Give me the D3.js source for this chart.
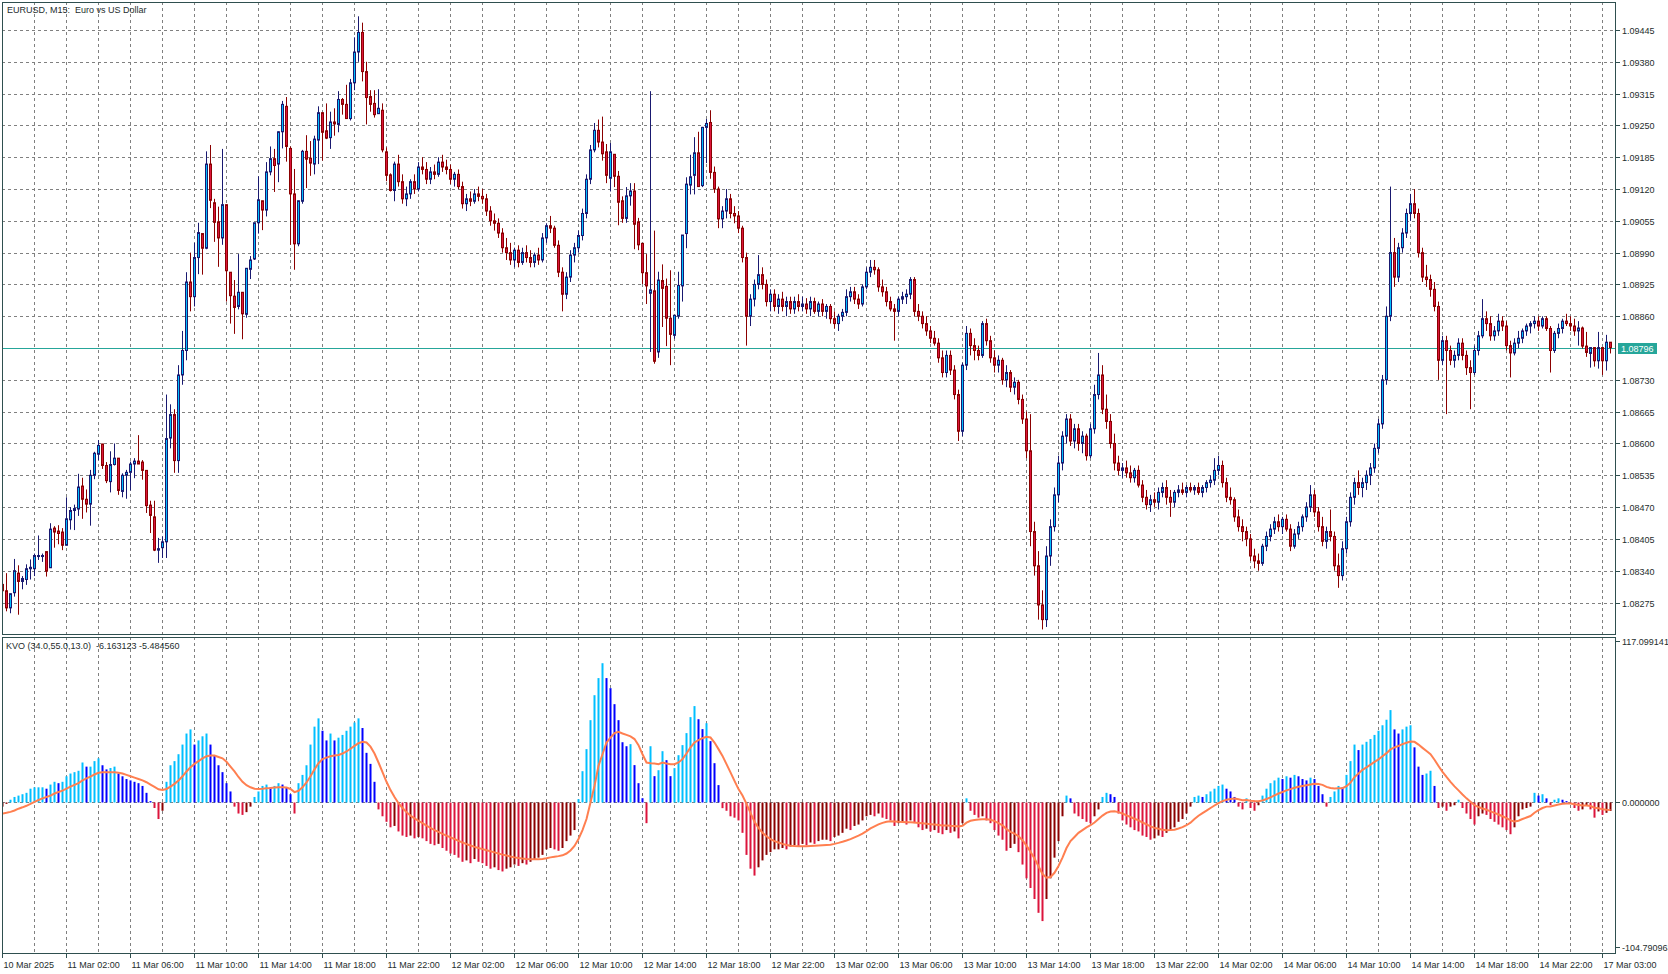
<!DOCTYPE html>
<html><head><meta charset="utf-8">
<script src="https://cdn.jsdelivr.net/npm/d3@7"></script>
<style>
html,body{margin:0;padding:0;background:#fff;overflow:hidden;}
svg{display:block;font-family:"Liberation Sans",Arial,sans-serif;}
</style></head><body>
<svg id="c" width="1668" height="974"></svg>
<script>
const symbolTitle = "EURUSD, M15:  Euro vs US Dollar";
const kvoTitle = "KVO (34.0,55.0,13.0)  -6.163123 -5.484560";
const timeLabels = ["10 Mar 2025","11 Mar 02:00","11 Mar 06:00","11 Mar 10:00","11 Mar 14:00","11 Mar 18:00","11 Mar 22:00","12 Mar 02:00","12 Mar 06:00","12 Mar 10:00","12 Mar 14:00","12 Mar 18:00","12 Mar 22:00","13 Mar 02:00","13 Mar 06:00","13 Mar 10:00","13 Mar 14:00","13 Mar 18:00","13 Mar 22:00","14 Mar 02:00","14 Mar 06:00","14 Mar 10:00","14 Mar 14:00","14 Mar 18:00","14 Mar 22:00","17 Mar 03:00"];
const timeLabelBars = [0,16,32,48,64,80,96,112,128,144,160,176,192,208,224,240,256,272,288,304,320,336,352,368,384,400];
const priceTicks = [1.09445,1.09380,1.09315,1.09250,1.09185,1.09120,1.09055,1.08990,1.08925,1.08860,1.08795,1.08730,1.08665,1.08600,1.08535,1.08470,1.08405,1.08340,1.08275];
const kvoTicks = [117.099141, 0, -104.790963];
const currentPrice = 1.08796;

// M15 bars, prices in points (1e-5)
const openP = [
108312,108299,108264,108295,108335,108318,108322,108344,108344,108369,
108369,108379,108346,108427,108421,108419,108392,108444,108463,108466,
108513,108486,108476,108535,108578,108599,108555,108522,108557,108570,
108502,108535,108541,108558,108564,108562,108545,108474,108450,108382,
108387,108399,108611,108659,108565,108740,108790,108930,108900,108980,
109029,108999,109171,109092,109053,109020,109088,108950,108901,108880,
108909,108864,108956,108977,109051,109096,109077,109155,109182,109171,
109237,109289,109203,109110,109008,109095,109197,109183,109171,109220,
109276,109239,109225,109257,109252,109303,109293,109264,109337,109400,
109440,109360,109309,109295,109274,109281,109196,109149,109117,109171,
109135,109100,109110,109135,109120,109165,109160,109140,109155,109150,
109175,109165,109160,109140,109150,109125,109090,109100,109095,109110,
109105,109100,109075,109055,109050,109030,109000,108990,108975,108995,
108970,108990,108980,108970,108985,108975,109020,109045,109040,109005,
108950,108905,108940,108985,109000,109025,109070,109140,109200,109240,
109216,109196,109142,109191,109146,109096,109060,109106,109116,109053,
109009,108949,108907,108912,108787,108933,108921,108856,108821,108860,
108922,109029,109128,109148,109194,109127,109246,109256,109154,109120,
109059,109075,109100,109070,109065,109040,108980,108860,108895,108925,
108945,108925,108890,108905,108880,108895,108880,108890,108875,108890,
108880,108885,108875,108890,108870,108885,108870,108880,108855,108845,
108860,108868,108900,108910,108895,108885,108920,108950,108960,108955,
108920,108910,108890,108875,108870,108895,108900,108905,108935,108870,
108860,108845,108830,108815,108805,108775,108745,108780,108750,108700,
108625,108760,108825,108800,108790,108780,108845,108810,108775,108760,
108770,108730,108745,108715,108725,108690,108650,108585,108420,108350,
108270,108240,108370,108430,108495,108560,108615,108650,108605,108630,
108600,108615,108575,108630,108700,108740,108670,108645,108600,108560,
108545,108550,108540,108530,108545,108515,108490,108475,108485,108480,
108500,108510,108490,108480,108500,108505,108500,108510,108505,108510,
108500,108510,108520,108525,108545,108555,108520,108490,108485,108450,
108430,108420,108405,108370,108360,108355,108390,108410,108425,108440,
108430,108445,108425,108390,108415,108430,108450,108470,108495,108460,
108430,108400,108420,108410,108350,108330,108385,108440,108490,108520,
108510,108520,108535,108550,108590,108640,108730,108860,108990,108940,
109000,109030,109070,109090,109070,108990,108940,108935,108915,108880,
108770,108810,108790,108770,108780,108805,108780,108755,108745,108790,
108820,108855,108845,108820,108830,108850,108840,108800,108785,108805,
108815,108830,108840,108845,108850,108840,108855,108835,108790,108825,
108835,108850,108845,108840,108830,108836,108799,108784,108796,108769,
108796,108769,108807];
const highP = [
108318,108335,108293,108364,108351,108329,108353,108363,108375,108412,
108375,108379,108437,108431,108433,108427,108490,108470,108475,108538,
108530,108506,108546,108583,108607,108599,108562,108584,108600,108570,
108539,108546,108563,108570,108617,108566,108545,108483,108483,108407,
108410,108700,108680,108670,108760,108830,108950,108990,109010,109051,
109029,109197,109210,109100,109084,109202,109088,108950,108934,108987,
108909,108958,108983,109051,109146,109096,109175,109207,109202,109238,
109300,109308,109207,109161,109096,109200,109230,109218,109229,109289,
109276,109295,109278,109285,109320,109306,109333,109345,109430,109473,
109460,109380,109322,109322,109324,109295,109205,109152,109176,109190,
109150,109125,109140,109150,109175,109185,109175,109165,109170,109185,
109190,109180,109170,109155,109160,109135,109110,109115,109120,109125,
109120,109110,109085,109070,109060,109040,109020,109010,109000,109005,
109000,109005,108995,108990,109000,109030,109050,109065,109045,109015,
108960,108950,108995,109010,109035,109080,109150,109210,109255,109262,
109268,109212,109214,109191,109157,109105,109124,109132,109132,109061,
109009,108987,109320,109035,108951,108966,108937,108954,108862,108951,
109026,109144,109190,109226,109237,109247,109263,109281,109166,109125,
109085,109120,109110,109085,109075,109045,108990,108905,108935,108985,
108960,108935,108915,108915,108905,108910,108900,108900,108900,108905,
108900,108897,108900,108898,108890,108895,108885,108885,108870,108865,
108875,108915,108920,108920,108905,108925,108960,108975,108975,108960,
108935,108920,108900,108885,108900,108910,108915,108940,108940,108885,
108870,108860,108840,108830,108815,108790,108790,108790,108760,108710,
108765,108840,108835,108815,108800,108850,108855,108820,108790,108780,
108775,108760,108750,108735,108730,108700,108665,108660,108440,108380,
108300,108390,108445,108510,108575,108625,108660,108660,108640,108640,
108625,108620,108640,108720,108785,108760,108700,108660,108620,108575,
108560,108565,108555,108550,108555,108525,108505,108495,108500,108510,
108520,108525,108505,108505,108515,108520,108515,108520,108515,108520,
108515,108525,108535,108570,108575,108565,108530,108510,108490,108465,
108445,108430,108415,108385,108375,108395,108420,108435,108450,108455,
108450,108455,108435,108425,108440,108455,108480,108515,108505,108470,
108450,108430,108465,108420,108375,108400,108450,108500,108530,108545,
108530,108545,108560,108600,108650,108740,108880,109125,109020,109010,
109040,109080,109110,109120,109080,109000,108965,108945,108930,108890,
108820,108820,108800,108790,108815,108815,108790,108770,108800,108830,
108895,108870,108860,108840,108865,108860,108850,108810,108815,108830,
108835,108845,108850,108860,108860,108860,108860,108840,108830,108845,
108855,108865,108860,108855,108850,108839,108828,108796,108796,108828,
108796,108822,108807];
const lowP = [
108296,108257,108253,108287,108250,108302,108311,108322,108329,108362,
108358,108328,108346,108387,108394,108382,108392,108424,108423,108452,
108446,108459,108432,108527,108566,108548,108519,108500,108555,108495,
108490,108487,108504,108529,108558,108526,108458,108417,108380,108356,
108366,108366,108590,108540,108540,108720,108770,108870,108880,108946,
108945,108997,109081,109012,108961,109006,108890,108845,108824,108874,
108813,108857,108936,108975,109029,109036,109064,109148,109114,109134,
109203,109176,109006,108955,109003,109090,109122,109147,109150,109171,
109178,109222,109202,109229,109236,109272,109264,109260,109322,109380,
109340,109252,109278,109266,109274,109195,109136,109115,109095,109125,
109090,109085,109100,109110,109115,109150,109130,109130,109140,109145,
109155,109150,109130,109125,109120,109080,109075,109085,109090,109095,
109090,109065,109045,109035,109020,108990,108975,108965,108960,108960,
108965,108970,108960,108960,108965,108970,109010,109030,109000,108940,
108870,108895,108930,108970,108990,109015,109060,109130,109195,109205,
109178,109132,109115,109124,109046,109051,109051,109086,108997,108995,
108926,108885,108787,108763,108775,108838,108799,108760,108814,108855,
108890,108999,109109,109109,109125,109124,109173,109141,109112,109040,
109040,109060,109060,109050,109030,108970,108800,108840,108880,108915,
108915,108880,108870,108870,108865,108870,108860,108865,108865,108870,
108870,108865,108860,108865,108860,108860,108855,108845,108835,108830,
108850,108860,108890,108885,108875,108880,108915,108940,108945,108910,
108900,108880,108870,108810,108860,108885,108885,108895,108860,108850,
108835,108820,108805,108800,108765,108735,108735,108740,108690,108605,
108615,108750,108780,108770,108770,108775,108800,108765,108745,108745,
108720,108715,108705,108700,108680,108640,108570,108390,108330,108240,
108220,108225,108350,108420,108480,108545,108600,108595,108590,108585,
108580,108565,108570,108620,108690,108660,108630,108590,108545,108535,
108530,108530,108520,108520,108510,108480,108465,108460,108470,108465,
108490,108475,108450,108470,108490,108495,108490,108500,108495,108495,
108490,108500,108510,108515,108535,108510,108480,108475,108440,108420,
108400,108390,108360,108345,108340,108350,108380,108400,108415,108420,
108415,108420,108380,108385,108405,108420,108440,108460,108450,108420,
108390,108385,108400,108340,108305,108320,108375,108430,108475,108495,
108490,108505,108515,108540,108580,108630,108720,108850,108920,108930,
108990,109020,109055,109060,108980,108930,108920,108900,108870,108730,
108760,108660,108760,108755,108770,108770,108740,108670,108740,108780,
108815,108830,108810,108810,108820,108830,108790,108735,108780,108795,
108805,108820,108825,108835,108830,108835,108830,108745,108785,108815,
108825,108840,108830,108820,108800,108794,108777,108755,108757,108753,
108740,108749,108784];
const closeP = [
108299,108264,108293,108340,108318,108324,108344,108347,108371,108371,
108371,108339,108425,108419,108416,108392,108446,108463,108467,108511,
108486,108476,108535,108580,108596,108555,108524,108557,108570,108504,
108535,108541,108558,108564,108558,108545,108473,108453,108382,108385,
108399,108610,108659,108565,108740,108790,108930,108900,108980,109031,
108999,109171,109097,109052,109020,109088,108953,108902,108878,108909,
108865,108958,108975,109051,109098,109077,109155,109182,109168,109237,
109293,109207,109110,109008,109096,109197,109181,109173,109222,109276,
109236,109224,109257,109253,109303,109293,109264,109337,109400,109440,
109360,109307,109293,109272,109285,109200,109148,109117,109171,109135,
109100,109110,109135,109120,109165,109160,109140,109155,109150,109175,
109165,109160,109140,109150,109125,109090,109100,109095,109110,109105,
109100,109075,109055,109050,109030,109000,108990,108975,108995,108970,
108990,108980,108970,108985,108975,109020,109045,109040,109005,108950,
108905,108940,108985,109000,109025,109070,109140,109200,109240,109216,
109192,109148,109196,109146,109093,109060,109106,109116,109048,109006,
108949,108922,108914,108768,108934,108917,108856,108823,108862,108923,
109026,109130,109145,109194,109125,109246,109254,109154,109120,109059,
109075,109100,109070,109065,109040,108980,108860,108895,108925,108945,
108925,108890,108905,108880,108895,108880,108890,108875,108890,108880,
108885,108875,108890,108870,108885,108870,108880,108855,108845,108860,
108868,108900,108910,108895,108885,108920,108950,108960,108955,108920,
108910,108890,108875,108870,108895,108900,108905,108935,108870,108860,
108845,108830,108815,108805,108775,108745,108780,108750,108700,108625,
108760,108825,108800,108790,108780,108845,108810,108775,108760,108770,
108730,108745,108715,108725,108690,108650,108585,108420,108350,108270,
108240,108370,108430,108495,108560,108615,108650,108605,108630,108600,
108615,108575,108630,108700,108740,108670,108645,108600,108560,108545,
108550,108540,108530,108545,108515,108490,108475,108485,108480,108500,
108510,108490,108480,108500,108505,108500,108510,108505,108510,108500,
108510,108520,108525,108545,108555,108520,108490,108485,108450,108430,
108420,108405,108370,108360,108355,108390,108410,108425,108440,108430,
108445,108425,108390,108415,108430,108450,108470,108495,108460,108430,
108400,108420,108410,108350,108330,108385,108440,108490,108520,108510,
108520,108535,108550,108590,108640,108730,108860,108990,108940,109000,
109030,109070,109090,109070,108990,108940,108935,108915,108880,108770,
108810,108790,108770,108780,108805,108780,108755,108745,108790,108820,
108855,108845,108820,108830,108850,108840,108800,108785,108805,108815,
108830,108840,108845,108850,108840,108855,108835,108790,108825,108835,
108850,108845,108840,108830,108836,108799,108786,108796,108769,108796,
108769,108807,108796];

// KVO histogram (main) and signal line
const kvoHist = [
-3,-1,2,4,5,6,7,10,11,11,
11,10,13,15,14,15,19,21,22,23,
29,26,26,30,32,27,24,25,26,21,
19,17,16,15,14,12,7,1,-4,-12,
-6,15,27,30,35,42,50,53,42,45,
48,50,42,34,27,22,14,8,-3,-8,
-9,-7,-3,4,8,12,13,11,12,14,
13,11,6,-8,14,20,27,42,55,61,
52,45,50,45,47,49,52,55,58,61,
54,36,28,15,-5,-10,-14,-18,-17,-21,
-24,-25,-24,-26,-25,-26,-28,-30,-31,-30,
-33,-35,-37,-38,-40,-43,-42,-44,-41,-43,
-44,-46,-48,-47,-49,-50,-48,-47,-45,-46,
-44,-45,-43,-41,-40,-38,-34,-33,-34,-35,
-33,-28,-24,-20,2.4,22.7,38.7,59.7,77.8,90.2,
101,90.2,82.9,71.3,59.7,43.7,40.8,42.3,27.1,14,
3.1,-15,40.8,19.1,23.4,37.2,30.7,19.1,24.9,34.3,
41.6,50.3,61.9,69.9,60.4,53.2,57.5,44.5,28.5,12.6,
-4.1,-6,-10,-11,-13,-22,-38,-48,-53,-47,
-42,-38,-36,-34,-34,-33,-34,-32,-31,-32,
-30,-31,-29,-30,-28,-27,-27,-28,-25,-24,
-22,-19,-20,-17,-16,-13,-10,-9,-10,-8,
-11,-12,-13,-17,-15,-14,-16,-13,-15,-18,
-20,-19,-21,-20,-22,-23,-20,-22,-21,-26,
-15,3,-6,-9,-11,-10,-13,-15,-20,-24,
-27,-35,-33,-30,-36,-45,-55,-62,-70,-80,
-86,-70,-55,-40,-28,-10,5,3,-8,-10,
-12,-14,-15,-10,-5,4,7,6,4,-8,
-13,-16,-18,-20,-21,-24,-25,-27,-26,-24,
-25,-22,-20,-18,-14,-12,-8,-3,4,5,
4,6,8,10,12,13,10,8,4,-3,
-5,3,-4,-6,-2,5,10,14,16,18,
17,19,18,20,19,17,16,18,17,12,
6,-3,4,8,12,11,20,30,42,38,
42,44,46,49,52,56,60,67,53,50,
53,55,56,40,26,20,21,23,12,-4,
-3,-6,-3,-2,2,-4,-8,-12,-16,-10,
-8,-9,-12,-14,-16,-18,-20,-23,-18,-10,
-5,-4,-3,7,5,6,3,-2,2,3,
2,1,-1,-4,-6,-5,-2,-5,-11,-6.5,
-9,-7.5,-6.163123];
const kvoSignal = [
-8,-7.5,-6.8,-5.8,-4.5,-3.5,-2.4,-1,0.5,1.8,
3,4,5,6.5,7.6,8.6,10,11.5,12.8,14,
16,17.5,18.7,20.3,21.5,22,22,22,22,21.5,
21,20,19,18,17,16,14.7,13,11.3,9.6,
9,9.8,11.5,13.5,16,19,22.5,25.5,28,30,
32,33.5,34,34,33,32,29.5,26,22.5,18.5,
15,12.5,11,10,9.8,10,10.3,10.5,10.8,11,
11,10.8,9.8,7.5,8.5,11,14.5,19,24,28.5,
31.5,32.5,33.5,34,34.5,35.5,37,39,41,43,
44,43.5,40.5,35.5,29,22,15,9,4,-0.5,
-4,-7,-9.5,-11.5,-13.3,-15,-16.7,-18.5,-20,-21.3,
-22.7,-24,-25.3,-26.5,-27.8,-29,-30.2,-31.2,-32.2,-33,
-33.8,-34.6,-35.4,-36.2,-37,-37.8,-38.5,-39.2,-39.8,-40.3,
-40.7,-41,-41.2,-41.2,-41.1,-40.9,-40.4,-39.8,-39.3,-38.9,
-38.3,-37,-34.8,-31.5,-26.5,-20,-12,0,12,26.6,
35,43.5,47.1,50.3,51.2,50,49,47.9,46,41.6,
35,29,28.5,28.3,27.8,29,28.3,27.8,27.8,29,
31.4,35.5,39.9,43.5,45.2,46.6,47.6,47.1,43.5,38.7,
33.8,27.8,21.8,15.7,9.7,5,-1,-7.5,-14,-18.5,
-22,-24.5,-26.5,-28,-29,-30,-30.8,-31.3,-31.6,-31.8,
-31.8,-31.8,-31.6,-31.4,-31.2,-31,-30.8,-30.6,-30,-29.3,
-28.5,-27.6,-26.6,-25.3,-24,-22.5,-20.7,-18.8,-17.3,-15.9,
-14.8,-14,-13.6,-13.8,-14,-14.1,-14.3,-14.3,-14.5,-14.8,
-15.1,-15.4,-15.7,-16,-16.3,-16.6,-16.7,-16.9,-17,-17.4,
-16.9,-14.6,-13.3,-12.7,-12.4,-12.1,-12.2,-12.5,-13.5,-14.9,
-16.6,-19.3,-21.3,-22.6,-24.5,-27.4,-31.3,-35.7,-40.6,-46.2,
-51.9,-54.5,-54,-51,-46,-40,-33,-28,-25,-22,
-20,-18,-16.5,-14.5,-12,-9.5,-7.5,-6.5,-6.3,-7,
-8,-9.3,-10.5,-11.8,-13,-14.5,-15.9,-17.3,-18.4,-19.1,
-19.8,-20.1,-20,-19.7,-18.9,-17.9,-16.5,-14.6,-12,-9.6,
-7.7,-5.9,-4,-2.2,-0.4,1,2,2.6,2.8,2.3,
1.6,1.8,1.3,1,0.9,1.4,2.5,3.7,5.1,6.5,
7.6,8.8,9.7,10.7,11.4,12,12.5,13,13.5,13.4,
12.8,11.3,10.5,10.1,10.3,10.4,11.8,14.4,18.4,21,
23.7,25.5,27.5,29.5,31.3,33.5,35.8,38.5,40,41,
42.3,43.3,44.2,44,42,39.6,37.3,35,31,26.5,
22.2,18.5,15,11.7,8.8,5.8,3,0.5,-2,-3.3,
-4.4,-5.3,-6.4,-7.5,-8.7,-10,-11.4,-13,-13.7,-13.2,
-12,-10.9,-9.8,-7.4,-5.6,-4,-3,-2.9,-2.2,-1.5,
-1,-0.7,-0.7,-1.2,-1.8,-2.2,-2.2,-2.6,-3.8,-4.2,
-4.9,-5.3,-5.48456];

const svg = d3.select('#c');
const PL = 2, PR = 1615, PT = 2, PB = 634, KT = 637, KB = 953;
const nBars = openP.length;
const x = d3.scaleLinear().domain([0, 402]).range([2, 1610]);
const yP = d3.scaleLinear().domain([1.08275, 1.09445]).range([602.5, 30]);
const yK = d3.scaleLinear().domain([-104.790963, 117.099141]).range([947, 641]);
const axisCol = '#2f4f4f', textCol = '#1e2d2d', gridCol = '#808080';
const bars = d3.range(nBars).map(i => ({i, o: openP[i]/1e5, h: highP[i]/1e5, l: lowP[i]/1e5, c: closeP[i]/1e5}));

const defs = svg.append('defs');
defs.append('clipPath').attr('id','clipP').append('rect').attr('x',PL+1).attr('y',PT+1).attr('width',PR-PL-1).attr('height',PB-PT-1);
defs.append('clipPath').attr('id','clipK').append('rect').attr('x',PL+1).attr('y',KT+1).attr('width',PR-PL-1).attr('height',KB-KT-1);

// grid
const gridX = d3.range(8, 401, 8);
const g = svg.append('g').attr('stroke', gridCol).attr('stroke-dasharray','3,3').attr('stroke-width',1);
g.selectAll('.vp').data(gridX).join('line').attr('class','vp').attr('x1',d=>Math.round(x(d))+0.5).attr('x2',d=>Math.round(x(d))+0.5).attr('y1',PT).attr('y2',PB);
g.selectAll('.vk').data(gridX).join('line').attr('class','vk').attr('x1',d=>Math.round(x(d))+0.5).attr('x2',d=>Math.round(x(d))+0.5).attr('y1',KT).attr('y2',KB);
g.selectAll('.hp').data(priceTicks).join('line').attr('class','hp').attr('x1',PL).attr('x2',PR).attr('y1',d=>Math.round(yP(d))+0.5).attr('y2',d=>Math.round(yP(d))+0.5);
g.append('line').attr('x1',PL).attr('x2',PR).attr('y1',Math.round(yK(0))+0.5).attr('y2',Math.round(yK(0))+0.5);

// current price line
svg.append('line').attr('x1',PL).attr('x2',PR).attr('y1',Math.round(yP(currentPrice))+0.5).attr('y2',Math.round(yP(currentPrice))+0.5).attr('stroke','#26a69a').attr('stroke-width',1);

// candles
const cg = svg.append('g').attr('clip-path','url(#clipP)');
const cand = cg.selectAll('g.c').data(bars).join('g').attr('class','c');
cand.append('line').attr('x1',d=>x(d.i)+0.5).attr('x2',d=>x(d.i)+0.5).attr('y1',d=>yP(d.h)).attr('y2',d=>yP(d.l))
  .attr('stroke',d=>d.c>=d.o?'#191970':'#8b0000').attr('stroke-width',1);
cand.append('rect').attr('x',d=>x(d.i)-0.5).attr('width',2)
  .attr('y',d=>yP(Math.max(d.o,d.c))).attr('height',d=>Math.max(1,Math.abs(yP(d.o)-yP(d.c))))
  .attr('fill',d=>d.c>=d.o?'#00bfff':'#dc143c').attr('stroke',d=>d.c>=d.o?'#191970':'#8b0000').attr('stroke-width',1);

// KVO histogram + signal
const kg = svg.append('g').attr('clip-path','url(#clipK)');
kg.selectAll('rect').data(kvoHist).join('rect')
  .attr('x',(d,i)=>x(i)-0.5).attr('width',2)
  .attr('y',d=>Math.min(yK(0),yK(d))).attr('height',d=>Math.abs(yK(d)-yK(0)))
  .attr('fill',(d,i)=>{const p=i>0?kvoHist[i-1]:d; if(d>=0) return d>=p?'#00bfff':'#0000ff'; return d<p?'#dc143c':'#8b0000';});
kg.append('path').datum(kvoSignal).attr('fill','none').attr('stroke','#ff7f50').attr('stroke-width',2)
  .attr('d', d3.line().x((d,i)=>x(i)+0.5).y(d=>yK(d)));

// frames
svg.append('rect').attr('x',PL+0.5).attr('y',PT+0.5).attr('width',PR-PL).attr('height',PB-PT).attr('fill','none').attr('stroke',axisCol);
svg.append('rect').attr('x',PL+0.5).attr('y',KT+0.5).attr('width',PR-PL).attr('height',KB-KT).attr('fill','none').attr('stroke',axisCol);

// price axis
const pa = svg.append('g').attr('font-size','9px').attr('fill',textCol);
priceTicks.filter(p=>Math.abs(p-1.08795)>1e-7).forEach(p=>{
  const yy = Math.round(yP(p))+0.5;
  pa.append('line').attr('x1',PR+0.5).attr('x2',PR+5).attr('y1',yy).attr('y2',yy).attr('stroke',axisCol);
  pa.append('text').attr('x',PR+7).attr('y',yy+3.5).text(p.toFixed(5));
});
const cy = Math.round(yP(currentPrice))+0.5;
svg.append('rect').attr('x',PR+3).attr('y',cy-5.5).attr('width',39).attr('height',11).attr('fill','#26a69a');
svg.append('text').attr('x',PR+6).attr('y',cy+3.5).attr('font-size','9px').attr('fill','#fff').text(currentPrice.toFixed(5));

// kvo axis
kvoTicks.forEach(v=>{
  const yy = Math.round(yK(v))+0.5;
  pa.append('line').attr('x1',PR+0.5).attr('x2',PR+5).attr('y1',yy).attr('y2',yy).attr('stroke',axisCol);
  pa.append('text').attr('x',PR+7).attr('y',yy+3.5).text(v.toFixed(6));
});

// time axis
const ta = svg.append('g').attr('font-size','9px').attr('fill',textCol);
timeLabels.forEach((t,j)=>{
  const xx = Math.round(x(timeLabelBars[j]))+0.5;
  ta.append('line').attr('x1',xx).attr('x2',xx).attr('y1',KB).attr('y2',KB+5).attr('stroke',axisCol);
  ta.append('text').attr('x',xx+1).attr('y',968).text(t);
});

// titles
svg.append('text').attr('x',7).attr('y',12.5).attr('font-size','9px').attr('fill',textCol).style('white-space','pre').text(symbolTitle);
svg.append('text').attr('x',6).attr('y',649).attr('font-size','9px').attr('fill',textCol).style('white-space','pre').text(kvoTitle);
</script></body></html>
